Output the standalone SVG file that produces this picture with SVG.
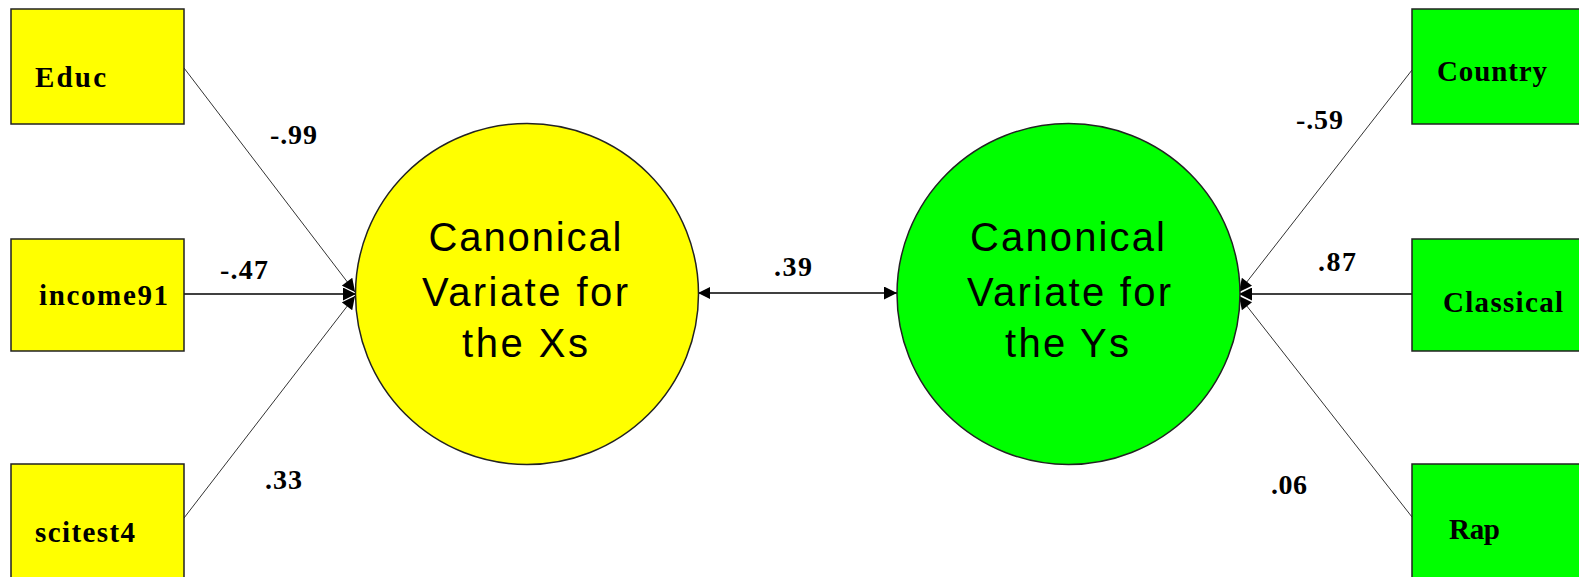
<svg xmlns="http://www.w3.org/2000/svg" width="1579" height="577" viewBox="0 0 1579 577">
<style>
.box{stroke:#222;stroke-width:1.5}
.y{fill:#ffff00}
.g{fill:#00ff00}
.circ{stroke:#222;stroke-width:1.5}
.lbl{font-family:"Liberation Serif",serif;font-weight:bold;font-size:29px;fill:#000}
.coef{font-family:"Liberation Serif",serif;font-weight:bold;font-size:28px;fill:#000}
.cv{font-family:"Liberation Sans",Arial,sans-serif;font-size:40px;fill:#000;text-anchor:middle}
.thin{stroke:#333;stroke-width:1;fill:none}
.thick{stroke:#000;stroke-width:1.5;fill:none}
</style>
<defs>
<marker id="ah" viewBox="0 0 10 10" refX="10" refY="5" markerWidth="15" markerHeight="13" markerUnits="userSpaceOnUse" orient="auto">
<path d="M0,0 L10,5 L0,10 z" fill="#000"/>
</marker>
<marker id="ahs" viewBox="0 0 10 10" refX="0" refY="5" markerWidth="14" markerHeight="12" markerUnits="userSpaceOnUse" orient="auto">
<path d="M10,0 L0,5 L10,10 z" fill="#000"/>
</marker>
</defs>
<rect width="1579" height="577" fill="#fff"/>
<g id="connectors">
<line class="thin" x1="184" y1="68" x2="355" y2="292" marker-end="url(#ah)"/>
<line class="thick" x1="184" y1="294" x2="356" y2="294" marker-end="url(#ah)"/>
<line class="thin" x1="184" y1="518" x2="355" y2="296" marker-end="url(#ah)"/>
<line class="thin" x1="1412" y1="70" x2="1239" y2="292" marker-end="url(#ah)"/>
<line class="thick" x1="1412" y1="294" x2="1239" y2="294" marker-end="url(#ah)"/>
<line class="thin" x1="1412" y1="517" x2="1239" y2="296" marker-end="url(#ah)"/>
<line class="thick" x1="698" y1="293" x2="897" y2="293" marker-start="url(#ahs)" marker-end="url(#ah)"/>
<text class="coef" x="270" y="144" textLength="47" lengthAdjust="spacing">-.99</text>
<text class="coef" x="220" y="279" textLength="48" lengthAdjust="spacing">-.47</text>
<text class="coef" x="265" y="489" textLength="37" lengthAdjust="spacing">.33</text>
<text class="coef" x="774" y="276" textLength="38" lengthAdjust="spacing">.39</text>
<text class="coef" x="1296" y="129" textLength="47" lengthAdjust="spacing">-.59</text>
<text class="coef" x="1318" y="271" textLength="38" lengthAdjust="spacing">.87</text>
<text class="coef" x="1271" y="494" textLength="36" lengthAdjust="spacing">.06</text>
</g>
<g id="educ">
<rect class="box y" x="11" y="9" width="173" height="115"/>
<text class="lbl" x="35" y="87" textLength="71" lengthAdjust="spacing">Educ</text>
</g>
<g id="income91">
<rect class="box y" x="11" y="239" width="173" height="112"/>
<text class="lbl" x="39" y="305" textLength="129" lengthAdjust="spacing">income91</text>
</g>
<g id="scitest4">
<rect class="box y" x="11" y="464" width="173" height="125"/>
<text class="lbl" x="35" y="542" textLength="100" lengthAdjust="spacing">scitest4</text>
</g>
<g id="country">
<rect class="box g" x="1412" y="9" width="180" height="115"/>
<text class="lbl" x="1437" y="81" textLength="110" lengthAdjust="spacing">Country</text>
</g>
<g id="classical">
<rect class="box g" x="1412" y="239" width="180" height="112"/>
<text class="lbl" x="1443" y="312" textLength="120" lengthAdjust="spacing">Classical</text>
</g>
<g id="rap">
<rect class="box g" x="1412" y="464" width="180" height="125"/>
<text class="lbl" x="1449" y="539" textLength="51" lengthAdjust="spacing">Rap</text>
</g>
<g id="cv-x">
<ellipse class="circ y" cx="527" cy="294" rx="171.5" ry="170.5"/>
<text class="cv" x="525" y="251" textLength="193" lengthAdjust="spacing">Canonical</text>
<text class="cv" x="525" y="306" textLength="206" lengthAdjust="spacing">Variate for</text>
<text class="cv" x="525" y="357" textLength="126" lengthAdjust="spacing">the Xs</text>
</g>
<g id="cv-y">
<ellipse class="circ g" cx="1068.5" cy="294" rx="171.5" ry="170.5"/>
<text class="cv" x="1067.5" y="251" textLength="195" lengthAdjust="spacing">Canonical</text>
<text class="cv" x="1069" y="306" textLength="204" lengthAdjust="spacing">Variate for</text>
<text class="cv" x="1067" y="357" textLength="124" lengthAdjust="spacing">the Ys</text>
</g>
</svg>
